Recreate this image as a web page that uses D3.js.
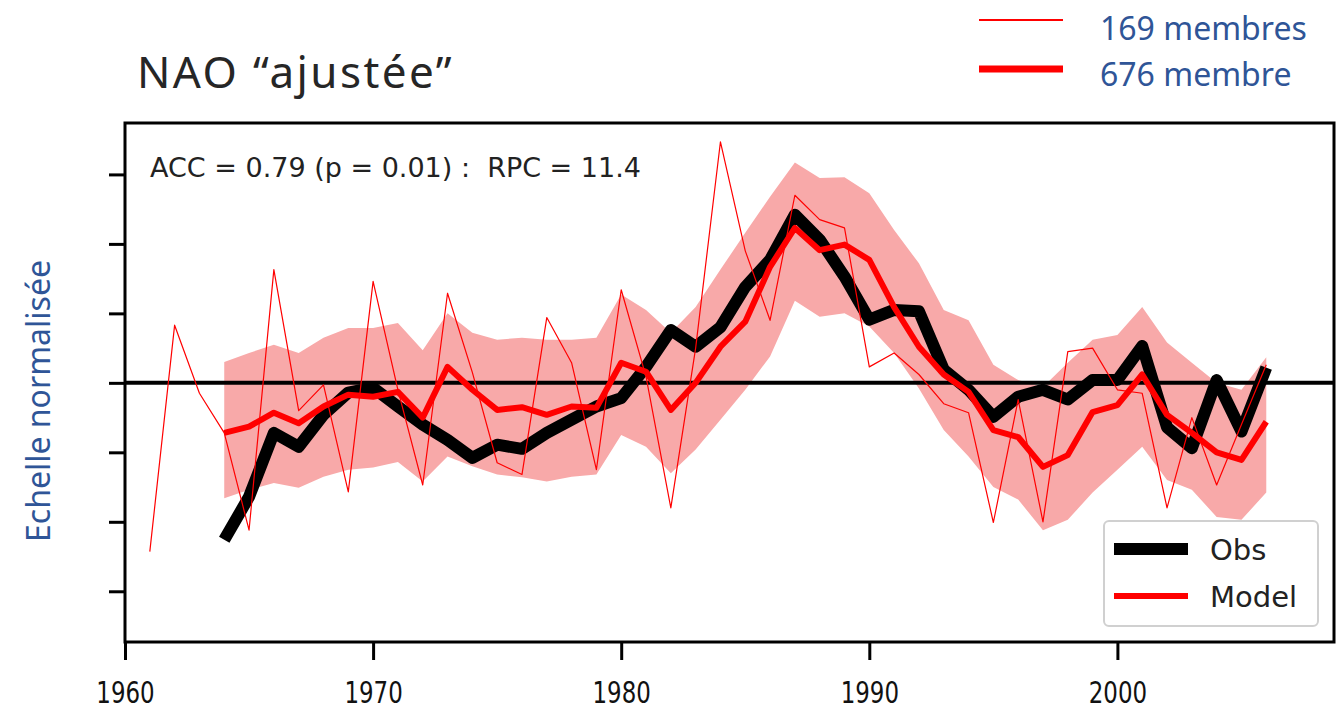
<!DOCTYPE html>
<html>
<head>
<meta charset="utf-8">
<script src="https://cdn.jsdelivr.net/npm/d3@7"></script>
<style>
  html, body { margin: 0; padding: 0; background: #fff; }
  svg { display: block; }
</style>
</head>
<body>
<div id="chart"></div>
<script>
// NAO "ajustée" - obs vs model ensemble

const yearsThin = d3.range(1961, 2007);
const thin169 = [
  -2.43, 0.83, -0.15, -0.72, -2.12, 1.63, -0.40, -0.03, -1.57, 1.46,
  -0.10, -1.47, 1.29, 0.15, -1.15, -1.32, 0.94, 0.29, -1.25, 1.34,
  0.09, -1.80, 0.50, 3.47, 1.90, 0.90, 2.70, 2.35, 2.23, 0.23,
  0.43, 0.12, -0.30, -0.43, -2.01, -0.24, -2.00, 0.45, 0.50, -0.10,
  -0.15, -1.80, -0.50, -1.47, -0.60, 0.26
];

const years = d3.range(1964, 2007);
const model676 = [
  -0.72, -0.63, -0.43, -0.58, -0.34, -0.17, -0.20, -0.13, -0.50, 0.23,
  -0.10, -0.39, -0.35, -0.46, -0.34, -0.36, 0.29, 0.16, -0.39, 0.00,
  0.52, 0.88, 1.67, 2.23, 1.91, 1.99, 1.77, 1.09, 0.52, 0.12,
  -0.13, -0.68, -0.78, -1.21, -1.04, -0.42, -0.32, 0.12, -0.46, -0.72,
  -1.00, -1.11, -0.56
];
const obs = [
  -2.26, -1.64, -0.72, -0.92, -0.46, -0.14, -0.07, -0.34, -0.60, -0.82,
  -1.08, -0.89, -0.95, -0.72, -0.53, -0.34, -0.22, 0.23, 0.76, 0.52,
  0.80, 1.38, 1.77, 2.42, 2.06, 1.53, 0.91, 1.05, 1.03, 0.19,
  -0.10, -0.49, -0.20, -0.10, -0.24, 0.04, 0.04, 0.53, -0.64, -0.94,
  0.04, -0.70, 0.22
];
const bandUpper = [
  0.30, 0.43, 0.55, 0.43, 0.65, 0.79, 0.79, 0.86, 0.47, 1.00,
  0.72, 0.62, 0.65, 0.62, 0.62, 0.65, 1.27, 1.05, 0.72, 1.09,
  1.63, 2.16, 2.68, 3.17, 2.95, 2.96, 2.73, 2.20, 1.72, 1.05,
  0.90, 0.26, 0.04, -0.06, 0.29, 0.62, 0.69, 1.09, 0.58, 0.29,
  0.00, -0.10, 0.37
];
const bandLower = [
  -1.66, -1.54, -1.44, -1.51, -1.35, -1.25, -1.22, -1.14, -1.42, -1.06,
  -1.20, -1.32, -1.36, -1.42, -1.35, -1.32, -0.75, -0.92, -1.30, -0.96,
  -0.53, -0.10, 0.38, 1.18, 0.95, 1.00, 0.81, 0.43, -0.08, -0.68,
  -1.06, -1.50, -1.68, -2.12, -1.97, -1.58, -1.25, -0.92, -1.40, -1.54,
  -1.93, -1.97, -1.58
];

const xTicks = [1960, 1970, 1980, 1990, 2000];
const yTicks = [-3, -2, -1, 0, 1, 2, 3];

const width = 1342, height = 712;
const plot = { left: 125, right: 1334, top: 123, bottom: 642 };

const svg = d3.select('#chart').append('svg')
  .attr('width', width)
  .attr('height', height);

const x = d3.scaleLinear().domain([1960, 2008.73]).range([plot.left, plot.right]);
const y = d3.scaleLinear().domain([-3.73, 3.74]).range([plot.bottom, plot.top]);

// clip to the axes box
svg.append('defs').append('clipPath').attr('id', 'clip')
  .append('rect')
  .attr('x', plot.left).attr('y', plot.top)
  .attr('width', plot.right - plot.left)
  .attr('height', plot.bottom - plot.top);

const g = svg.append('g').attr('clip-path', 'url(#clip)');

// spread band
const area = d3.area()
  .x((d, i) => x(years[i]))
  .y0((d, i) => y(bandLower[i]))
  .y1((d, i) => y(bandUpper[i]));

g.append('path')
  .datum(bandUpper)
  .attr('d', area)
  .attr('fill', '#f8a9a9');

// zero line
g.append('line')
  .attr('x1', plot.left).attr('x2', plot.right)
  .attr('y1', y(0)).attr('y2', y(0))
  .attr('stroke', '#000')
  .attr('stroke-width', 4);

const line = xs => d3.line()
  .x((d, i) => x(xs[i]))
  .y(d => y(d));

// observations
g.append('path')
  .datum(obs)
  .attr('d', line(years))
  .attr('fill', 'none')
  .attr('stroke', '#000')
  .attr('stroke-width', 12)
  .attr('stroke-linejoin', 'round');

// 676 member mean
g.append('path')
  .datum(model676)
  .attr('d', line(years))
  .attr('fill', 'none')
  .attr('stroke', '#ff0000')
  .attr('stroke-width', 6)
  .attr('stroke-linejoin', 'round');

// 169 member mean
g.append('path')
  .datum(thin169)
  .attr('d', line(yearsThin))
  .attr('fill', 'none')
  .attr('stroke', '#ff0000')
  .attr('stroke-width', 1.2)
  .attr('stroke-linejoin', 'round');

// axes
const xAxis = svg.append('g')
  .attr('transform', `translate(0,${plot.bottom})`)
  .call(d3.axisBottom(x).tickValues(xTicks).tickSize(18).tickPadding(21).tickFormat(d3.format('d')));
xAxis.select('.domain').remove();
xAxis.selectAll('.tick line').attr('stroke', '#000').attr('stroke-width', 3);
// labels in the reference are tall and narrow
xAxis.selectAll('.tick text')
  .attr('font-family', '"DejaVu Sans", sans-serif')
  .attr('font-size', 31)
  .attr('fill', '#111')
  .attr('transform', 'scale(0.74,1)');

const yAxis = svg.append('g')
  .attr('transform', `translate(${plot.left},0)`)
  .call(d3.axisLeft(y).tickValues(yTicks).tickSize(16).tickFormat(''));
yAxis.select('.domain').remove();
yAxis.selectAll('.tick line').attr('stroke', '#000').attr('stroke-width', 3);

// frame
svg.append('rect')
  .attr('x', plot.left).attr('y', plot.top)
  .attr('width', plot.right - plot.left)
  .attr('height', plot.bottom - plot.top)
  .attr('fill', 'none')
  .attr('stroke', '#000')
  .attr('stroke-width', 3);

// stats annotation
svg.append('text')
  .attr('x', 150).attr('y', 177)
  .attr('font-family', '"DejaVu Sans", sans-serif')
  .attr('font-size', 27)
  .attr('fill', '#222')
  .attr('xml:space', 'preserve')
  .text('ACC = 0.79 (p = 0.01) :  RPC = 11.4');

// in-plot legend
const leg = svg.append('g');
leg.append('rect')
  .attr('x', 1104).attr('y', 521)
  .attr('width', 214).attr('height', 105)
  .attr('rx', 5)
  .attr('fill', '#fff')
  .attr('fill-opacity', 0.85)
  .attr('stroke', '#d0d0d0')
  .attr('stroke-width', 2);

const legItems = [
  { label: 'Obs', color: '#000', w: 12, y: 549 },
  { label: 'Model', color: '#ff0000', w: 6, y: 596 }
];
legItems.forEach(d => {
  leg.append('line')
    .attr('x1', 1114).attr('x2', 1188)
    .attr('y1', d.y).attr('y2', d.y)
    .attr('stroke', d.color)
    .attr('stroke-width', d.w);
  leg.append('text')
    .attr('x', 1210).attr('y', d.y + 11)
    .attr('font-family', '"DejaVu Sans", sans-serif')
    .attr('font-size', 29)
    .attr('fill', '#222')
    .text(d.label);
});

// title
svg.append('text')
  .attr('x', 137).attr('y', 88)
  .attr('font-family', '"Noto Sans", "Open Sans", sans-serif')
  .attr('font-size', 44)
  .attr('letter-spacing', 2.4)
  .attr('fill', '#262626')
  .text('NAO \u201Cajust\u00E9e\u201D');

// y label
svg.append('text')
  .attr('transform', 'translate(50,401) rotate(-90)')
  .attr('text-anchor', 'middle')
  .attr('font-family', '"Noto Sans", "Open Sans", sans-serif')
  .attr('font-size', 32)
  .attr('fill', '#2f5597')
  .text('Echelle normalisée');

// ensemble size legend (top right)
const sizes = [
  { label: '169 membres', w: 2, y: 20 },
  { label: '676 membre', w: 7, y: 69 }
];
sizes.forEach((d, i) => {
  svg.append('line')
    .attr('x1', 979).attr('x2', 1063)
    .attr('y1', d.y).attr('y2', d.y)
    .attr('stroke', '#ff0000')
    .attr('stroke-width', d.w);
  svg.append('text')
    .attr('x', 1100).attr('y', 40 + i * 46)
    .attr('font-family', '"Noto Sans", "Open Sans", sans-serif')
    .attr('font-size', 32)
    .attr('fill', '#2f5597')
    .text(d.label);
});
</script>
</body>
</html>
